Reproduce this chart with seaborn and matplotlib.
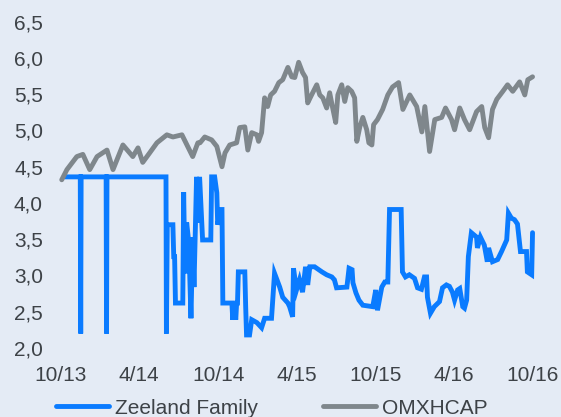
import matplotlib
matplotlib.use('Agg')
import matplotlib.pyplot as plt
import matplotlib.dates as mdates
from matplotlib.lines import Line2D
from matplotlib.ticker import FuncFormatter
import pandas as pd
import seaborn as sns

# Zeeland Family share price (EUR)
zeeland_dates = [
    "2013-10-11", "2013-11-15", "2013-11-16", "2013-11-17", "2014-01-14", "2014-01-15",
    "2014-01-16", "2014-06-02", "2014-06-03", "2014-06-05", "2014-06-18", "2014-06-20",
    "2014-06-22", "2014-06-24", "2014-07-11", "2014-07-13", "2014-07-16", "2014-07-20",
    "2014-07-25", "2014-07-30", "2014-08-03", "2014-08-06", "2014-08-12", "2014-08-14",
    "2014-08-19", "2014-08-26", "2014-09-14", "2014-09-16", "2014-09-23", "2014-09-28",
    "2014-09-30", "2014-10-07", "2014-10-10", "2014-10-12", "2014-11-02", "2014-11-04",
    "2014-11-06", "2014-11-11", "2014-11-13", "2014-11-15", "2014-11-17", "2014-12-02",
    "2014-12-04", "2014-12-06", "2014-12-13", "2014-12-18", "2014-12-30", "2015-01-10",
    "2015-01-17", "2015-02-02", "2015-02-09", "2015-02-21", "2015-02-28", "2015-03-12",
    "2015-03-16", "2015-03-23", "2015-03-25", "2015-04-01", "2015-04-08", "2015-04-15",
    "2015-04-22", "2015-04-27", "2015-05-02", "2015-05-13", "2015-05-30", "2015-06-10",
    "2015-06-22", "2015-06-28", "2015-07-03", "2015-07-27", "2015-08-01", "2015-08-08",
    "2015-08-10", "2015-08-17", "2015-08-24", "2015-09-02", "2015-09-25", "2015-10-02",
    "2015-10-06", "2015-10-16", "2015-10-23", "2015-10-30", "2015-11-03", "2015-11-30",
    "2015-12-03", "2015-12-10", "2015-12-19", "2015-12-31", "2016-01-07", "2016-01-16",
    "2016-01-23", "2016-01-28", "2016-01-30", "2016-02-06", "2016-02-15", "2016-02-27",
    "2016-03-05", "2016-03-14", "2016-03-21", "2016-03-28", "2016-04-02", "2016-04-09",
    "2016-04-14", "2016-04-21", "2016-04-25", "2016-04-30", "2016-05-04", "2016-05-11",
    "2016-05-23", "2016-05-25", "2016-06-01", "2016-06-10", "2016-06-17", "2016-06-20",
    "2016-06-29", "2016-07-11", "2016-07-20", "2016-08-01", "2016-08-05", "2016-08-12",
    "2016-08-19", "2016-08-26", "2016-09-02", "2016-09-16", "2016-09-18", "2016-09-28",
    "2016-09-30",
]
zeeland_values = [
    4.36, 4.36, 2.20, 4.36, 4.36, 2.20,
    4.36, 4.36, 2.20, 3.70, 3.70, 3.26,
    3.26, 2.62, 2.62, 4.15, 3.03, 3.73,
    3.45, 2.41, 3.53, 2.84, 4.36, 3.73,
    4.36, 3.49, 3.49, 4.36, 4.36, 4.14,
    3.70, 3.91, 3.91, 2.62, 2.62, 2.39,
    2.62, 2.39, 2.62, 2.62, 3.05, 3.05,
    2.57, 2.18, 2.18, 2.39, 2.35, 2.28,
    2.41, 2.41, 3.03, 2.84, 2.70, 2.62,
    2.57, 2.43, 3.10, 2.80, 2.94, 2.77,
    3.12, 2.87, 3.12, 3.12, 3.05, 3.01,
    2.98, 2.94, 2.83, 2.84, 3.10, 3.08,
    2.90, 2.76, 2.66, 2.59, 2.57, 2.80,
    2.52, 2.84, 2.91, 2.91, 3.91, 3.91,
    3.05, 2.98, 3.01, 2.96, 2.83, 2.81,
    2.98, 2.98, 2.70, 2.48, 2.57, 2.64,
    2.83, 2.87, 2.85, 2.77, 2.66, 2.80,
    2.82, 2.57, 2.55, 2.66, 3.26, 3.59,
    3.53, 3.38, 3.53, 3.42, 3.19, 3.38,
    3.19, 3.22, 3.33, 3.49, 3.86, 3.79,
    3.77, 3.71, 3.33, 3.33, 3.05, 3.01,
    3.59,
]

# OMXHCAP index, rebased to the same scale
omx_dates = [
    "2013-10-03", "2013-10-15", "2013-11-07", "2013-11-21", "2013-12-07", "2013-12-24",
    "2014-01-16", "2014-01-30", "2014-02-22", "2014-03-17", "2014-03-29", "2014-04-09",
    "2014-04-25", "2014-05-12", "2014-06-04", "2014-06-18", "2014-07-09", "2014-08-03",
    "2014-08-15", "2014-08-20", "2014-08-31", "2014-09-16", "2014-09-28", "2014-10-10",
    "2014-10-17", "2014-10-28", "2014-11-13", "2014-11-20", "2014-12-02", "2014-12-09",
    "2014-12-18", "2014-12-30", "2015-01-03", "2015-01-10", "2015-01-17", "2015-01-24",
    "2015-01-31", "2015-02-09", "2015-02-19", "2015-02-28", "2015-03-12", "2015-03-21",
    "2015-03-28", "2015-04-06", "2015-04-15", "2015-04-22", "2015-04-27", "2015-05-06",
    "2015-05-18", "2015-05-25", "2015-06-01", "2015-06-10", "2015-06-17", "2015-06-24",
    "2015-07-01", "2015-07-06", "2015-07-15", "2015-07-22", "2015-07-29", "2015-08-07",
    "2015-08-14", "2015-08-19", "2015-08-26", "2015-09-02", "2015-09-11", "2015-09-16",
    "2015-09-23", "2015-09-27", "2015-10-06", "2015-10-18", "2015-10-30", "2015-11-10",
    "2015-11-24", "2015-12-04", "2015-12-20", "2016-01-05", "2016-01-17", "2016-01-24",
    "2016-02-04", "2016-02-16", "2016-03-03", "2016-03-12", "2016-03-26", "2016-04-02",
    "2016-04-14", "2016-04-25", "2016-05-07", "2016-05-23", "2016-06-04", "2016-06-11",
    "2016-06-20", "2016-06-29", "2016-07-09", "2016-07-23", "2016-08-03", "2016-08-15",
    "2016-08-31", "2016-09-12", "2016-09-19", "2016-09-30",
]
omx_values = [
    4.32, 4.46, 4.64, 4.67, 4.46, 4.64,
    4.73, 4.46, 4.80, 4.64, 4.76, 4.56,
    4.69, 4.83, 4.94, 4.91, 4.94, 4.64,
    4.83, 4.83, 4.91, 4.87, 4.78, 4.50,
    4.69, 4.80, 4.83, 5.04, 5.05, 4.73,
    4.97, 4.94, 4.85, 4.97, 5.45, 5.33,
    5.49, 5.54, 5.66, 5.70, 5.87, 5.74,
    5.73, 5.94, 5.80, 5.73, 5.38, 5.49,
    5.63, 5.49, 5.45, 5.31, 5.52, 5.31,
    5.11, 5.49, 5.63, 5.40, 5.59, 5.54,
    5.45, 4.85, 5.05, 5.18, 5.01, 4.83,
    4.80, 5.08, 5.15, 5.29, 5.49, 5.60,
    5.66, 5.29, 5.49, 5.33, 4.98, 5.33,
    4.71, 5.15, 5.18, 5.31, 5.15, 5.01,
    5.31, 5.15, 5.01, 5.26, 5.33, 5.04,
    4.90, 5.29, 5.43, 5.54, 5.63, 5.54,
    5.67, 5.49, 5.70, 5.74,
]

y_ticks = [2.0, 2.5, 3.0, 3.5, 4.0, 4.5, 5.0, 5.5, 6.0, 6.5]

BG = '#E4EBF5'
BLUE = '#0A7BFF'
GREY = '#7F878C'
TEXT = '#3D4247'

sns.set_style('white', {'axes.facecolor': BG, 'figure.facecolor': BG})
plt.rcParams['font.family'] = ['Liberation Sans', 'DejaVu Sans']

zeeland = pd.DataFrame({'date': pd.to_datetime(zeeland_dates), 'value': zeeland_values})
omx = pd.DataFrame({'date': pd.to_datetime(omx_dates), 'value': omx_values})

fig = plt.figure(figsize=(5.61, 4.17), dpi=100)
ax = fig.add_axes([54 / 561, 1 - 348 / 417, 485 / 561, (348 - 21.7) / 417])

sns.lineplot(data=zeeland, x='date', y='value', ax=ax, color=BLUE, linewidth=3.5,
             estimator=None, solid_joinstyle='miter')
sns.lineplot(data=omx, x='date', y='value', ax=ax, color=GREY, linewidth=3.5,
             estimator=None, solid_joinstyle='round', solid_capstyle='round')

ax.set_xlim(pd.Timestamp('2013-09-15'), pd.Timestamp('2016-10-15'))
ax.set_ylim(y_ticks[0], y_ticks[-1])
ax.set_yticks(y_ticks)
ax.yaxis.set_major_formatter(FuncFormatter(lambda v, _: f'{v:.1f}'.replace('.', ',')))
ax.xaxis.set_major_locator(mdates.MonthLocator(bymonth=[4, 10]))
ax.xaxis.set_major_formatter(FuncFormatter(
    lambda v, _: f'{mdates.num2date(v).month}/{mdates.num2date(v):%y}'))

ax.set_xlabel('')
ax.set_ylabel('')
ax.tick_params(axis='both', length=0, labelsize=15, labelcolor=TEXT)
ax.tick_params(axis='y', pad=8)
ax.tick_params(axis='x', pad=13)
sns.despine(ax=ax, left=True, bottom=True)
ax.grid(False)

handles = [Line2D([0], [0], color=BLUE, lw=3.5), Line2D([0], [0], color=GREY, lw=3.5)]
fig.legend(handles, ['Zeeland Family', 'OMXHCAP'], loc='center',
           bbox_to_anchor=(0.484, 1 - 408 / 417), ncol=2, frameon=False,
           fontsize=15, labelcolor=TEXT, handlelength=2.55, handletextpad=0.3,
           columnspacing=3.1)

fig.savefig('out.png', dpi=100, facecolor=BG)
